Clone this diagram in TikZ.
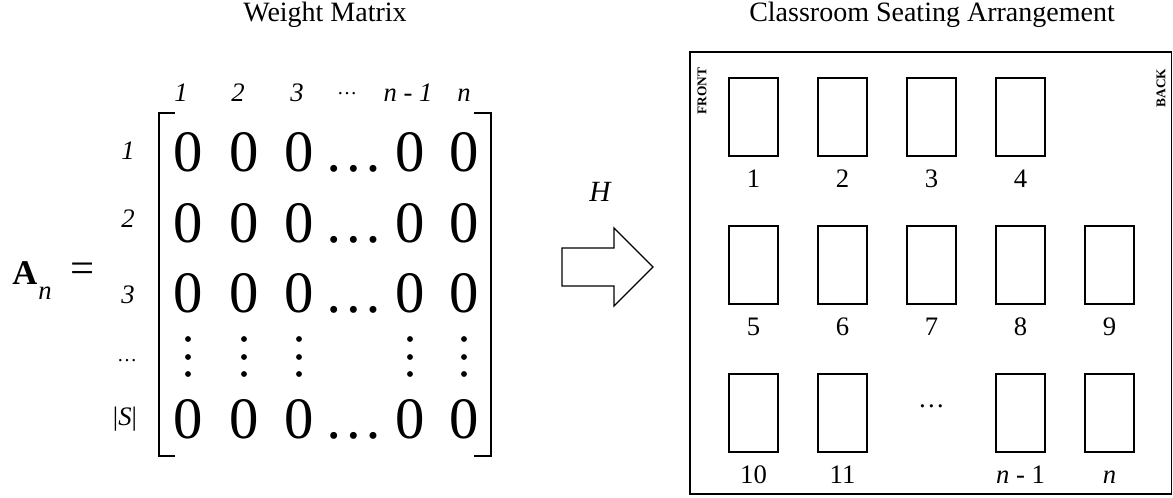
\documentclass[tikz,border=0pt]{standalone}
\usepackage{fontspec}
\setmainfont{Liberation Serif}
\usetikzlibrary{positioning}

\begin{document}
\begin{tikzpicture}[x=0.75pt,y=-0.75pt,line width=1pt,node distance=66.75pt]
%pixel units, y going down

  \tikzstyle{desk}=[draw,rectangle,inner sep=0pt,minimum width=36.75pt,minimum height=58.5pt]
  \tikzstyle{title}=[font=\fontsize{21}{21}\selectfont,anchor=base]
  \tikzstyle{seatno}=[font=\fontsize{20}{20}\selectfont,anchor=base,inner sep=0pt]
  \tikzstyle{zero}=[font=\fontsize{44}{44}\selectfont,anchor=base,inner sep=0pt]
  \tikzstyle{idx}=[font=\fontsize{20}{20}\selectfont\itshape,anchor=base,inner sep=0pt]
  \tikzstyle{tiny}=[font=\fontsize{15}{15}\selectfont,anchor=base,inner sep=0pt]
  \tikzstyle{wall}=[rotate=90,font=\fontsize{10}{10}\selectfont\bfseries,inner sep=0pt]

  \useasboundingbox (0,0) rectangle (1173,498);

  \node[title] (wtitle) at (325,22) {Weight Matrix};
  \node[title] (ctitle) at (932,22) {Classroom Seating Arrangement};

%left hand side
  \node[font=\fontsize{26}{26}\selectfont\bfseries,anchor=base,inner sep=0pt] (amat) at (25,285) {A};
  \node[idx] (asub) at (45,300) {n};
  \node[font=\fontsize{32}{32}\selectfont,anchor=base,inner sep=0pt] (eq) at (83,283) {=};

%column and row indices
  \node[idx] (c1) at (181,102) {1};
  \node[idx] (c2) at (238,102) {2};
  \node[idx] (c3) at (297,102) {3};
  \node[tiny] (cdots) at (347,95) {\dots};
  \node[idx] (cn1) at (408,102) {n - 1};
  \node[idx] (cn) at (464,102) {n};

  \node[idx] (r1) at (128,160) {1};
  \node[idx] (r2) at (128,228) {2};
  \node[idx] (r3) at (128,304) {3};
  \node[tiny] (rdots) at (127,362) {\dots};
  \node[idx] (rs) at (125,425) {{\upshape|}S{\upshape|}};

%matrix entries
  \foreach \r/\yb in {1/172,2/243,3/313,5/438} {
    \foreach \c/\xc in {1/188,2/244,3/299,5/410,6/464}
      \node[zero] (z\r\c) at (\xc,\yb) {0};
    \node[zero] (zd\r) at (354,\yb) {\dots};
  }
  \foreach \xc in {188,244,299,410,464}
    \foreach \yd in {339,357,374}
      \fill (\xc,\yd) circle (2.2pt);

  \draw (175,113) -- (159,113) -- (159,456) -- (175,456);
  \draw (474,113) -- (491,113) -- (491,456) -- (474,456);

%mapping arrow
  \node[font=\fontsize{22}{22}\selectfont\itshape,anchor=base] (hmap) at (600,202) {H};
  \draw (562,248) -- (614,248) -- (614,228) -- (653,267) -- (614,306) -- (614,286) -- (562,286) -- cycle;

%classroom
  \draw[line width=1.2pt] (690,52) rectangle (1171.5,494);
  \node[wall] (front) at (702,91) {FRONT};
  \node[wall] (back) at (1161,88) {BACK};

  \node[desk] (d1) at (753.5,117) {};
  \node[desk] (d2) [right of=d1] {};
  \node[desk] (d3) [right of=d2] {};
  \node[desk] (d4) [right of=d3] {};

  \node[desk] (d5) at (753.5,265) {};
  \node[desk] (d6) [right of=d5] {};
  \node[desk] (d7) [right of=d6] {};
  \node[desk] (d8) [right of=d7] {};
  \node[desk] (d9) [right of=d8] {};

  \node[desk] (d10) at (753.5,413) {};
  \node[desk] (d11) [right of=d10] {};
  \node[seatno,anchor=center] (gap) [right of=d11,yshift=5pt] {\dots};
  \node[desk] (dn1) [right of=gap,yshift=-5pt] {};
  \node[desk] (dn) [right of=dn1] {};

  \foreach \d/\lab in {d1/1,d2/2,d3/3,d4/4,d5/5,d6/6,d7/7,d8/8,d9/9,d10/10,d11/11,dn1/{\textit{n} - 1},dn/\textit{n}}
    \node[seatno] (s\d) at ([yshift=-23.25pt]\d.south) {\lab};

\end{tikzpicture}
\end{document}
